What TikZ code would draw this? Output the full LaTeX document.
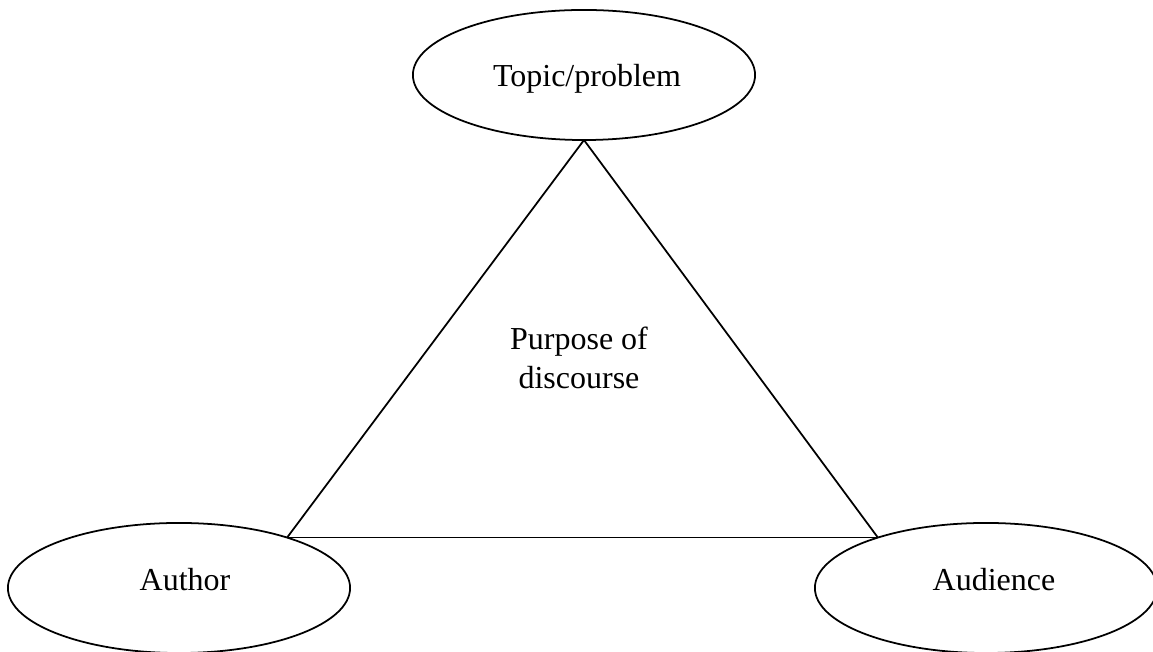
\documentclass[tikz,border=0pt]{standalone}
\usepackage{fontspec}
\setmainfont{Liberation Serif}
\usetikzlibrary{shapes.geometric}
\begin{document}
\begin{tikzpicture}[x=0.01cm, y=-0.01cm,
  inner sep=0pt, outer sep=0pt,%
  idea node/.style={ellipse,draw,line width=0.5pt,minimum width=3.42cm,minimum height=1.3cm},
  side/.style={line width=0.5pt},
  every node/.style={font=\fontsize{9.1}{10.9}\selectfont}]

\useasboundingbox (0,0) rectangle (1153,652);

\node[idea node] (topic) at (584,75) {};
\node[idea node] (author) at (179,588) {};
\node[idea node] (audience) at (986,588) {};

\node (topic text) at ([shift={(3,4)}]topic) {Topic/problem};
\node (author text) at ([shift={(6,-8)}]author) {Author};
\node (audience text) at ([shift={(8,-8)}]audience) {Audience};

\coordinate (apex) at (topic.south);
\coordinate (left) at (author.25);
\coordinate (right) at (audience.155);

\draw[side] (apex) -- (left);
\draw[side] (left) -- (right);
\draw[side] (right) -- (apex);

\node[align=center] (purpose) at (579,358) {Purpose of\\discourse};

\end{tikzpicture}
\end{document}
